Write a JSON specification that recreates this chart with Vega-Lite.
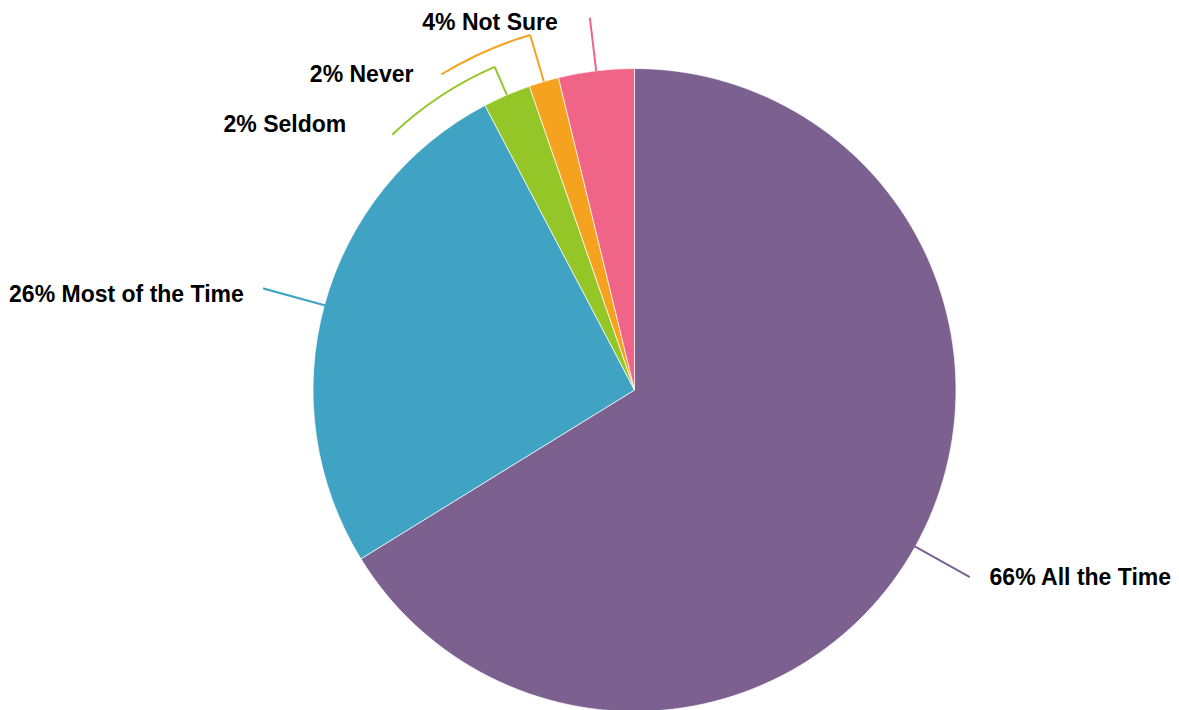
{
  "$schema": "https://vega.github.io/schema/vega-lite/v6.json",
  "autosize": "none",
  "width": 643,
  "height": 643,
  "padding": {"left": 313, "top": 68.5, "right": 223, "bottom": 0},
  "background": "white",
  "config": {"view": {"stroke": null}},
  "data": {
    "values": [
      {"cat": "All the Time", "value": 66.2, "order": 1, "label": "66% All the Time"},
      {"cat": "Most of the Time", "value": 26.1, "order": 2, "label": "26% Most of the Time"},
      {"cat": "Seldom", "value": 2.4, "order": 3, "label": "2% Seldom"},
      {"cat": "Never", "value": 1.5, "order": 4, "label": "2% Never"},
      {"cat": "Not Sure", "value": 3.8, "order": 5, "label": "4% Not Sure"}
    ]
  },
  "transform": [
    {"stack": "value", "groupby": [], "sort": [{"field": "order", "order": "ascending"}], "as": ["v0", "v1"]}
  ],
  "layer": [
    {
      "mark": {"type": "arc", "outerRadius": 321.5, "stroke": "white", "strokeWidth": 0.7},
      "encoding": {
        "theta": {"field": "v0", "type": "quantitative", "stack": null, "scale": {"domain": [0, 100]}},
        "theta2": {"field": "v1"},
        "color": {
          "field": "cat", "type": "nominal", "legend": null,
          "scale": {
            "domain": ["All the Time", "Most of the Time", "Seldom", "Never", "Not Sure"],
            "range": ["#7c6190", "#40a3c3", "#95c627", "#f5a31f", "#ef6487"]
          }
        }
      }
    },
    {
      "mark": {"type": "arc", "filled": false, "color": "#7c6190", "strokeWidth": 2, "radius": 383, "radius2": 321.5, "thetaOffset": 2.07973, "theta2Offset": -2.07973},
      "encoding": {
        "theta": {"field": "v0", "type": "quantitative", "stack": null},
        "theta2": {"field": "v1"},
        "opacity": {"condition": {"test": "datum.cat === 'All the Time'", "value": 1}, "value": 0}
      }
    },
    {
      "mark": {"type": "arc", "filled": false, "color": "#40a3c3", "strokeWidth": 2, "radius": 384, "radius2": 321.5, "thetaOffset": 0.81996, "theta2Offset": -0.81996},
      "encoding": {
        "theta": {"field": "v0", "type": "quantitative", "stack": null},
        "theta2": {"field": "v1"},
        "opacity": {"condition": {"test": "datum.cat === 'Most of the Time'", "value": 1}, "value": 0}
      }
    },
    {
      "mark": {"type": "arc", "filled": false, "color": "#95c627", "strokeWidth": 2, "radius": 352, "radius2": 321.5, "thetaOffset": 0.075398, "theta2Offset": -0.075398},
      "encoding": {
        "theta": {"field": "v0", "type": "quantitative", "stack": null},
        "theta2": {"field": "v1"},
        "opacity": {"condition": {"test": "datum.cat === 'Seldom'", "value": 1}, "value": 0}
      }
    },
    {
      "mark": {"type": "arc", "filled": false, "color": "#95c627", "strokeWidth": 2, "radius": 352, "radius2": 352, "thetaOffset": 0.075398, "theta2Offset": -0.42621},
      "encoding": {
        "theta": {"field": "v0", "type": "quantitative", "stack": null},
        "theta2": {"field": "v1"},
        "opacity": {"condition": {"test": "datum.cat === 'Seldom'", "value": 1}, "value": 0}
      }
    },
    {
      "mark": {"type": "arc", "filled": false, "color": "#f5a31f", "strokeWidth": 2, "radius": 370, "radius2": 321.5, "thetaOffset": 0.047124, "theta2Offset": -0.047124},
      "encoding": {
        "theta": {"field": "v0", "type": "quantitative", "stack": null},
        "theta2": {"field": "v1"},
        "opacity": {"condition": {"test": "datum.cat === 'Never'", "value": 1}, "value": 0}
      }
    },
    {
      "mark": {"type": "arc", "filled": false, "color": "#f5a31f", "strokeWidth": 2, "radius": 370, "radius2": 370, "thetaOffset": 0.047124, "theta2Offset": -0.31101},
      "encoding": {
        "theta": {"field": "v0", "type": "quantitative", "stack": null},
        "theta2": {"field": "v1"},
        "opacity": {"condition": {"test": "datum.cat === 'Never'", "value": 1}, "value": 0}
      }
    },
    {
      "mark": {"type": "arc", "filled": false, "color": "#ef6487", "strokeWidth": 2, "radius": 375, "radius2": 321.5, "thetaOffset": 0.119381, "theta2Offset": -0.119381},
      "encoding": {
        "theta": {"field": "v0", "type": "quantitative", "stack": null},
        "theta2": {"field": "v1"},
        "opacity": {"condition": {"test": "datum.cat === 'Not Sure'", "value": 1}, "value": 0}
      }
    },
    {
      "mark": {"type": "text", "radius": 321.5, "dx": 74.3, "dy": 38.1, "align": "left", "baseline": "alphabetic", "font": "Liberation Sans", "fontWeight": "bold", "fontSize": 23, "color": "#000000"},
      "encoding": {
        "theta": {"field": "value", "type": "quantitative", "stack": true},
        "order": {"field": "order", "type": "quantitative"},
        "detail": {"field": "cat", "type": "nominal"},
        "text": {"condition": {"test": "datum.cat === 'All the Time'", "field": "label"}, "value": ""}
      }
    },
    {
      "mark": {"type": "text", "radius": 321.5, "dx": -80.6, "dy": -2.7, "align": "right", "baseline": "alphabetic", "font": "Liberation Sans", "fontWeight": "bold", "fontSize": 23, "color": "#000000"},
      "encoding": {
        "theta": {"field": "value", "type": "quantitative", "stack": true},
        "order": {"field": "order", "type": "quantitative"},
        "detail": {"field": "cat", "type": "nominal"},
        "text": {"condition": {"test": "datum.cat === 'Most of the Time'", "field": "label"}, "value": ""}
      }
    },
    {
      "mark": {"type": "text", "radius": 321.5, "dx": -160.6, "dy": 37.2, "align": "right", "baseline": "alphabetic", "font": "Liberation Sans", "fontWeight": "bold", "fontSize": 23, "color": "#000000"},
      "encoding": {
        "theta": {"field": "value", "type": "quantitative", "stack": true},
        "order": {"field": "order", "type": "quantitative"},
        "detail": {"field": "cat", "type": "nominal"},
        "text": {"condition": {"test": "datum.cat === 'Seldom'", "field": "label"}, "value": ""}
      }
    },
    {
      "mark": {"type": "text", "radius": 321.5, "dx": -130.4, "dy": 0.6, "align": "right", "baseline": "alphabetic", "font": "Liberation Sans", "fontWeight": "bold", "fontSize": 23, "color": "#000000"},
      "encoding": {
        "theta": {"field": "value", "type": "quantitative", "stack": true},
        "order": {"field": "order", "type": "quantitative"},
        "detail": {"field": "cat", "type": "nominal"},
        "text": {"condition": {"test": "datum.cat === 'Never'", "field": "label"}, "value": ""}
      }
    },
    {
      "mark": {"type": "text", "radius": 321.5, "dx": -38.4, "dy": -41, "align": "right", "baseline": "alphabetic", "font": "Liberation Sans", "fontWeight": "bold", "fontSize": 23, "color": "#000000"},
      "encoding": {
        "theta": {"field": "value", "type": "quantitative", "stack": true},
        "order": {"field": "order", "type": "quantitative"},
        "detail": {"field": "cat", "type": "nominal"},
        "text": {"condition": {"test": "datum.cat === 'Not Sure'", "field": "label"}, "value": ""}
      }
    }
  ]
}
